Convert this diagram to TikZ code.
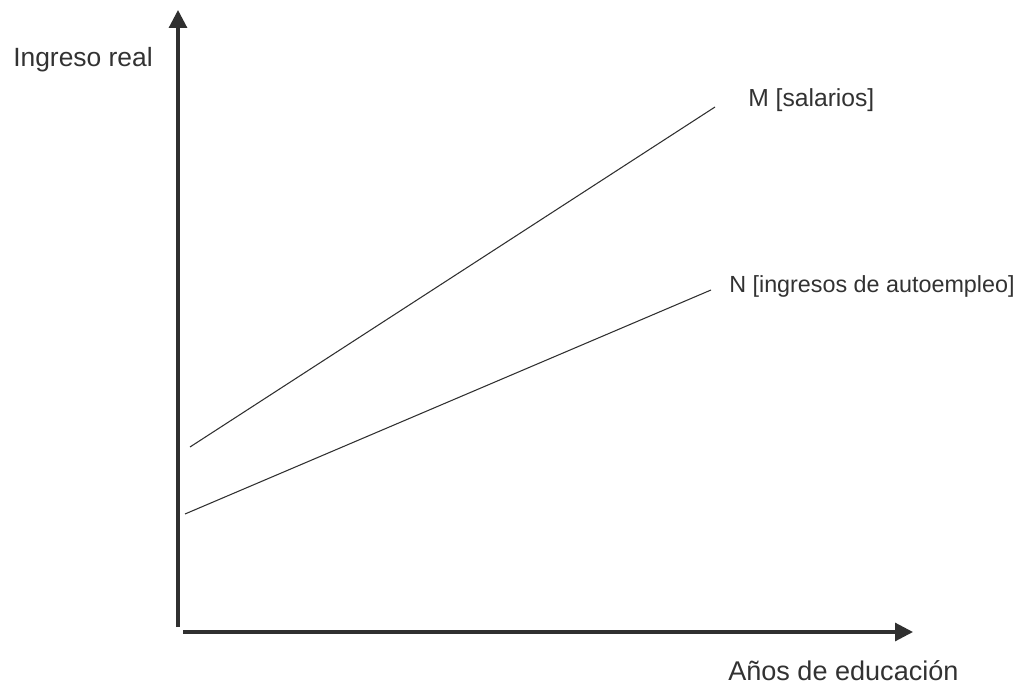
\documentclass[tikz,border=0pt]{standalone}
\usepackage{fontspec}
\setmainfont{Liberation Sans}
\usetikzlibrary{arrows.meta}
\definecolor{axisgray}{RGB}{48,48,48}
\definecolor{textgray}{RGB}{50,50,50}
\newcommand{\lblsize}[1]{\fontsize{#1}{#1}\selectfont}
\begin{document}
\begin{tikzpicture}[x=0.75pt, y=-0.75pt,
		axis/.style={axisgray, line width=2.3pt, -{Triangle[width=13.5pt, length=13.5pt]}},
		curve/.style={axisgray, line width=0.8pt},
		label/.style={textgray, inner sep=0pt, anchor=base west, font=\lblsize{18.5}}]
	\useasboundingbox (0, 0) rectangle (1032, 688);
	% axes
	\coordinate (Ybot) at (178, 627);
	\coordinate (Ytop) at (178, 10);
	\coordinate (Xbot) at (183, 632);
	\coordinate (Xtop) at (913, 632);
	\draw[axis] (Ybot) -- (Ytop);
	\draw[axis] (Xbot) -- (Xtop);
	% axis labels
	\node[label, font=\lblsize{19.8}] (ylab) at (13, 67) {Ingreso real};
	\node[label, font=\lblsize{20.3}] (xlab) at (728, 680) {Años de educación};
	% wages
	\coordinate (M0) at (190, 447);
	\coordinate (M1) at (715, 107);
	\draw[curve] (M0) -- (M1);
	\node[label] (mlab) at (748, 107) {M [salarios]};
	% self-employment income
	\coordinate (N0) at (185, 514);
	\coordinate (N1) at (711, 290);
	\draw[curve] (N0) -- (N1);
	\node[label, font=\lblsize{17.5}] (nlab) at (729, 292) {N [ingresos de autoempleo]};
\end{tikzpicture}
\end{document}
